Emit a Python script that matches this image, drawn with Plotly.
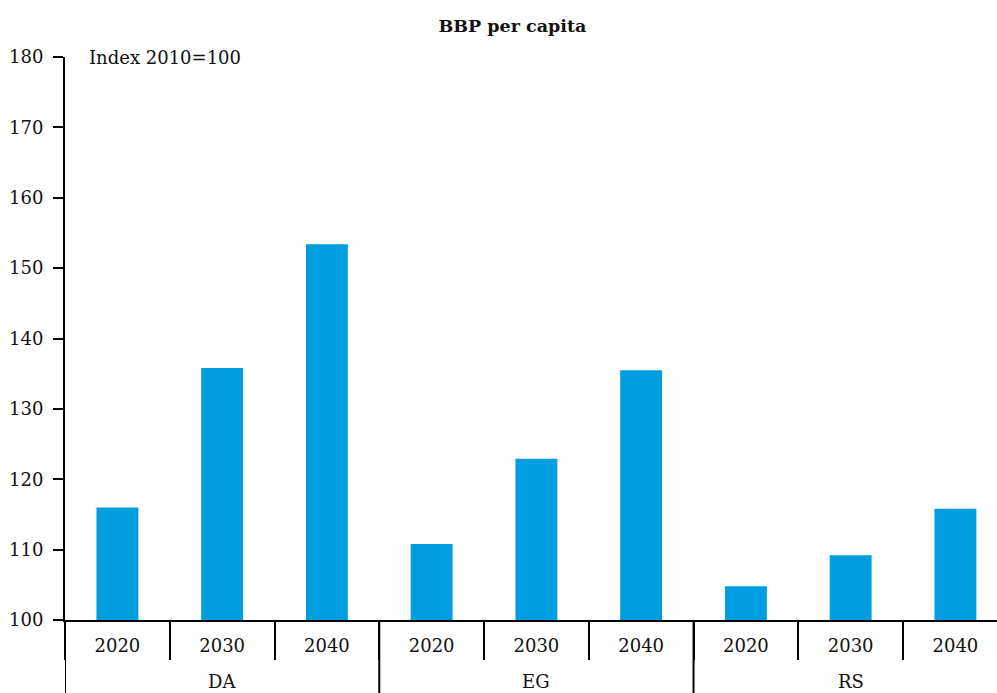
import plotly.graph_objects as go

groups = ["DA", "DA", "DA", "EG", "EG", "EG", "RS", "RS", "RS"]
years = ["2020", "2030", "2040", "2020", "2030", "2040", "2020", "2030", "2040"]
values = [116.0, 135.8, 153.4, 110.8, 122.9, 135.5, 104.8, 109.2, 115.8]
y_ticks = [100, 110, 120, 130, 140, 150, 160, 170, 180]

FONT = "DejaVu Serif"
BAR = "#009EE0"
TXT = "#111111"

idx = list(range(len(values)))
group_names = list(dict.fromkeys(groups))
group_first = [groups.index(g) for g in group_names]
group_last = [len(groups) - 1 - groups[::-1].index(g) for g in group_names]

fig = go.Figure(
    go.Bar(x=idx, y=values, marker_color=BAR, marker_line_width=0)
)

H_PLOT = 693 - 57 - 73
annotations = [dict(text="Index 2010=100", xref="paper", yref="paper",
                    x=22 / 932, y=1.0, xanchor="left", yanchor="middle",
                    showarrow=False, font=dict(family=FONT, size=18, color=TXT))]
shapes = []
for g, a, b in zip(group_names, group_first, group_last):
    annotations.append(dict(text=g, xref="x", yref="paper", x=(a + b) / 2,
                            y=-(681 - 620) / H_PLOT, xanchor="center", yanchor="middle",
                            showarrow=False, font=dict(family=FONT, size=18, color=TXT)))
    shapes.append(dict(type="line", xref="x", yref="paper", x0=a - 0.5, x1=a - 0.5,
                       y0=0, y1=-75 / H_PLOT, line=dict(color="black", width=2)))

fig.update_layout(
    width=997, height=693,
    margin=dict(l=65, r=0, t=57, b=73),
    paper_bgcolor="white", plot_bgcolor="white",
    bargap=0.6,
    showlegend=False,
    font=dict(family=FONT, size=18, color=TXT),
    title=dict(text="<b>BBP per capita</b>", x=0.514, xanchor="center",
               y=1 - 26 / 693, yanchor="middle",
               font=dict(family=FONT, size=17.5, color=TXT)),
    annotations=annotations,
    shapes=shapes,
)

fig.update_xaxes(
    range=[-0.5, 8.397],
    tickvals=idx, ticktext=years,
    showline=True, linecolor="black", linewidth=2,
    ticks="", ticklabelstandoff=8,
    minor=dict(tickvals=[i - 0.5 for i in idx], ticks="outside", ticklen=38,
               tickcolor="black", tickwidth=2, showgrid=False),
    showgrid=False, zeroline=False,
    tickfont=dict(family=FONT, size=18, color=TXT),
)
fig.update_yaxes(
    range=[100, 180], tickvals=y_ticks,
    showline=True, linecolor="black", linewidth=2,
    ticks="outside", ticklen=10, tickcolor="black", tickwidth=2,
    ticklabelstandoff=6,
    showgrid=False, zeroline=False,
    tickfont=dict(family=FONT, size=18, color=TXT),
)

fig.write_html("out.html")
